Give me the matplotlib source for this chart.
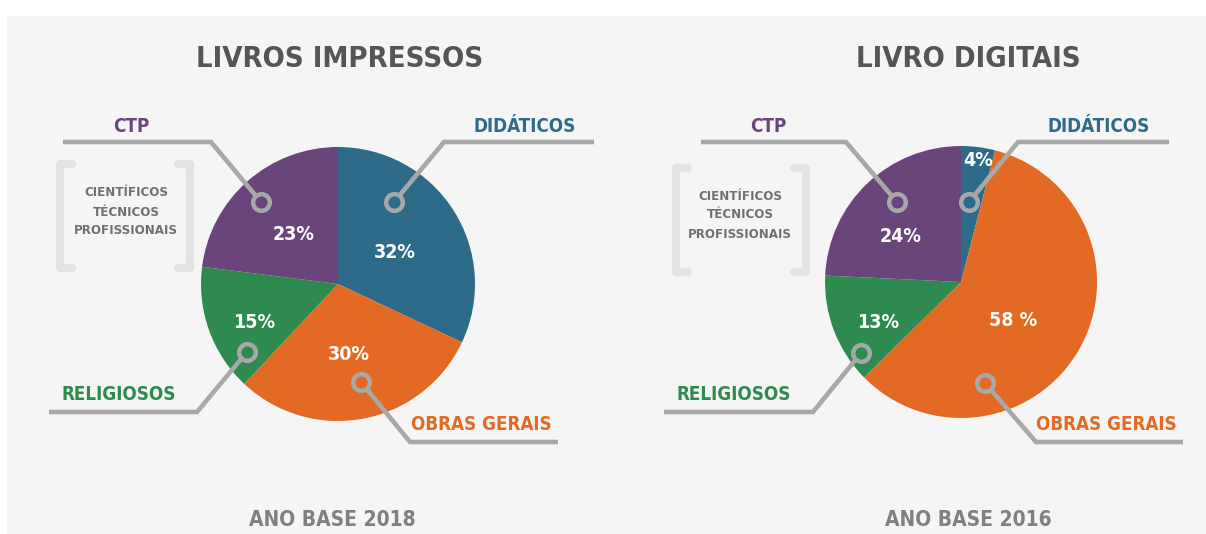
import matplotlib
matplotlib.use("Agg")
import matplotlib.pyplot as plt
from matplotlib import font_manager
from matplotlib.patches import Rectangle

# dados
categorias = ["DIDÁTICOS", "OBRAS GERAIS", "RELIGIOSOS", "CTP"]
impressos_2018 = [32, 30, 15, 23]
digitais_2016 = [4, 58, 13, 24]
rotulos_impressos = ["32%", "30%", "15%", "23%"]
rotulos_digitais = ["4%", "58 %", "13%", "24%"]
titulos = ["LIVROS IMPRESSOS", "LIVRO DIGITAIS"]
rodapes = ["ANO BASE 2018", "ANO BASE 2016"]
ctp_texto = "CIENTÍFICOS\nTÉCNICOS\nPROFISSIONAIS"

cores = ["#2D6B88", "#E26A24", "#2E8A4F", "#6A457B"]
cinza_linha = "#A8A8A8"

# fonte condensada, se houver
nomes = {f.name for f in font_manager.fontManager.ttflist}
if "Liberation Sans Narrow" in nomes:
    FONTE, ESTICA = "Liberation Sans Narrow", "normal"
else:
    FONTE, ESTICA = "DejaVu Sans", "condensed"

W, H = 1206, 534
fig = plt.figure(figsize=(W / 100, H / 100), dpi=100, facecolor="white")
ax = fig.add_axes([0, 0, 1, 1])


def Y(y):
    # coordenadas de pixel (y para baixo) -> eixo (y para cima)
    return H - y


def txt(x, y, s, size, color, **kw):
    ax.text(x, Y(y), s, fontsize=size, color=color, family=FONTE,
            fontstretch=ESTICA, fontweight="bold", ha="center", va="center",
            zorder=6, **kw)


ax.add_patch(Rectangle((7, 0), W - 7, H - 16, facecolor="#F5F5F5",
                       edgecolor="none", zorder=0))

# layout de cada gráfico
paineis = [
    dict(valores=impressos_2018, rotulos=rotulos_impressos, centro=(338, 284), raio=137,
         titulo=(340, 59), rodape=(332, 520),
         pct_pos=[(395, 253), (349, 355), (254, 323), (294, 235)],
         lbl_pos=[(525, 127), (481, 425), (119, 395), (131, 127)],
         guias=[[(394, 202), (444, 142), (594, 142)],
                [(361, 382), (410, 442), (558, 442)],
                [(247, 352), (197, 412), (49, 412)],
                [(261, 202), (211, 142), (63, 142)]],
         colchete=(60, 190, 164, 268), ctp_pos=(126, 212)),
    dict(valores=digitais_2016, rotulos=rotulos_digitais, centro=(961, 282), raio=136,
         titulo=(968, 59), rodape=(968, 520),
         pct_pos=[(978, 160), (1013, 320), (878, 323), (901, 237)],
         lbl_pos=[(1099, 126), (1106, 424), (734, 395), (768, 126)],
         guias=[[(969, 202), (1018, 142), (1169, 142)],
                [(985, 383), (1036, 442), (1183, 442)],
                [(861, 353), (813, 412), (664, 412)],
                [(897, 202), (846, 142), (701, 142)]],
         colchete=(676, 806, 168, 272), ctp_pos=(740, 215)),
]

for i, p in enumerate(paineis):
    cx, cy = p["centro"]
    ax.pie(p["valores"], colors=cores, startangle=90, counterclock=False,
           center=(cx, Y(cy)), radius=p["raio"],
           wedgeprops=dict(linewidth=0, zorder=2))

    for k in range(len(categorias)):
        xs = [pt[0] for pt in p["guias"][k]]
        ys = [Y(pt[1]) for pt in p["guias"][k]]
        ax.plot(xs, ys, color=cinza_linha, lw=3.3, solid_joinstyle="miter",
                solid_capstyle="butt", zorder=4)
        ax.plot(xs[0], ys[0], "o", ms=12, mec=cinza_linha, mew=3.2,
                mfc=cores[k], zorder=5)
        txt(*p["pct_pos"][k], p["rotulos"][k], 14, "white")
        txt(*p["lbl_pos"][k], categorias[k], 13.5, cores[k])

    txt(*p["titulo"], titulos[i], 21, "#555555")
    txt(*p["rodape"], rodapes[i], 15, "#808080")

    # colchetes do CTP
    x0, x1, y0, y1 = p["colchete"]
    gancho = 12
    for xa, sgn in ((x0, 1), (x1, -1)):
        ax.plot([xa + sgn * gancho, xa, xa, xa + sgn * gancho],
                [Y(y0), Y(y0), Y(y1), Y(y1)], color="#E2E2E2", lw=6,
                solid_joinstyle="round", solid_capstyle="round", zorder=1)
    txt(*p["ctp_pos"], ctp_texto, 9.5, "#707070", linespacing=1.6)

ax.set_xlim(0, W)
ax.set_ylim(0, H)
ax.set_aspect("auto")
ax.axis("off")

fig.savefig("out.png", dpi=100, facecolor="white")
